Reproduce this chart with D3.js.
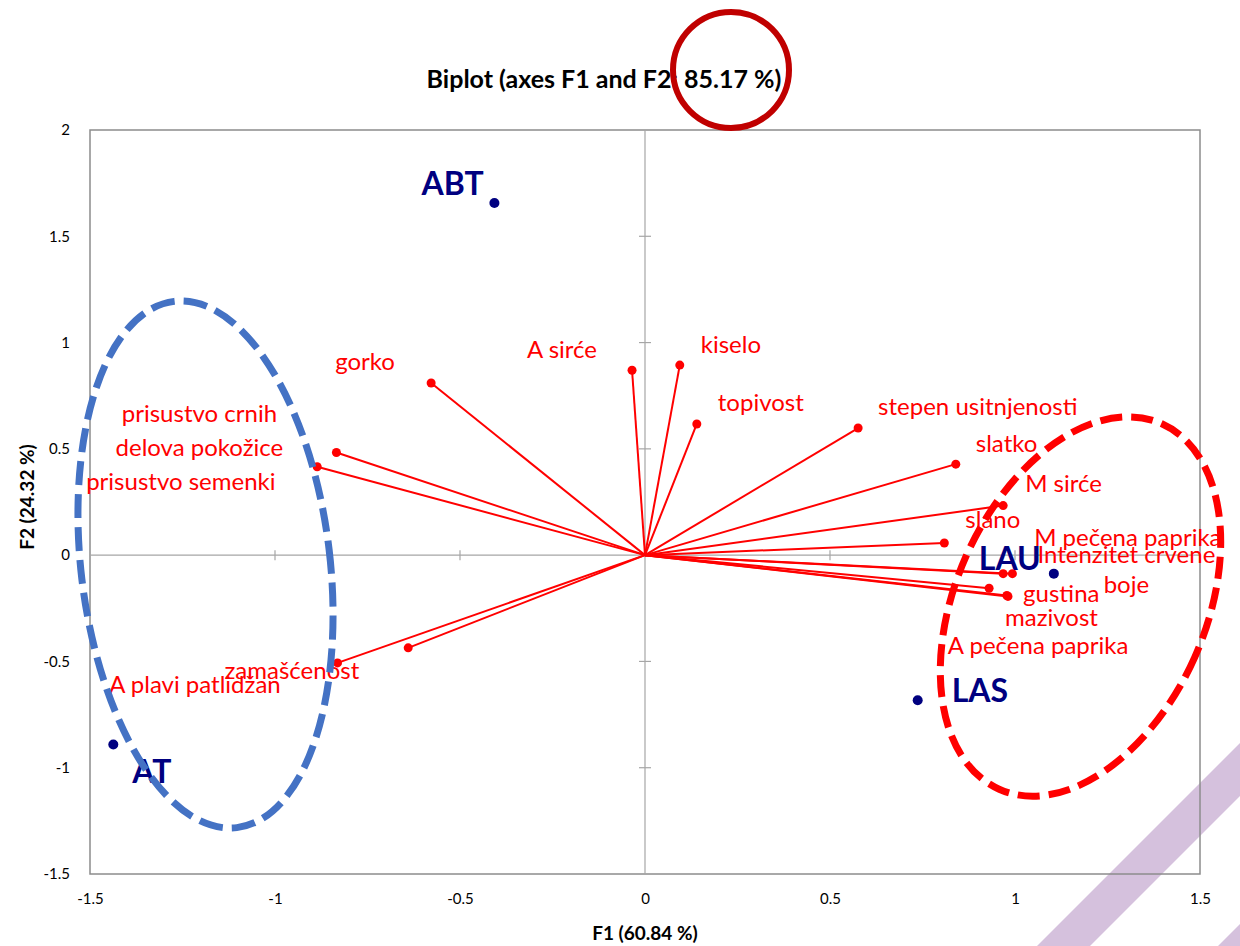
<html>
<head>
    <script src="https://d3js.org/d3.v7.min.js"></script>
</head>
<body style="margin:0;">

<div id="chart"></div>

<style>
    body { background: #fff; }
    text { font-family: Lato, "Open Sans", sans-serif; }
</style>

<script>

// observations (navy points)
var obsNames = ["ABT", "AT", "LAU", "LAS"];
var obsF1 = [-0.407, -1.437, 1.105, 0.737];
var obsF2 = [1.657, -0.891, -0.087, -0.683];

// variables (red vectors)
var varNames = ["gorko", "A sirće", "kiselo", "topivost", "stepen usitnjenosti", "slatko",
    "M sirće", "slano", "M pečena paprika", "Intenzitet crvene\nboje", "gustina", "mazivost",
    "A pečena paprika", "prisustvo crnih\ndelova pokožice", "prisustvo semenki",
    "zamašćenost", "A plavi patlidžan"];
var varF1 = [-0.578, -0.035, 0.094, 0.140, 0.576, 0.840,
    0.968, 0.809, 0.968, 0.993, 0.930, 0.981,
    0.978, -0.834, -0.886,
    -0.831, -0.640];
var varF2 = [0.810, 0.870, 0.894, 0.617, 0.598, 0.428,
    0.233, 0.057, -0.087, -0.087, -0.156, -0.194,
    -0.190, 0.483, 0.416,
    -0.507, -0.436];

var f1Ticks = [-1.5, -1, -0.5, 0, 0.5, 1, 1.5];
var f2Ticks = [-1.5, -1, -0.5, 0, 0.5, 1, 1.5, 2];

var title = "Biplot (axes F1 and F2: 85.17 %)";
var xTitle = "F1 (60.84 %)";
var yTitle = "F2 (24.32 %)";

// label placement (px offsets from the point), kept apart from the data
var obsLabelPos = {
    "ABT": [-73, -8], "AT": [19, 38], "LAU": [-75, -4], "LAS": [34, 2]
};
var varLabelPos = {
    "gorko": [-96, -13], "A sirće": [-105, -12], "kiselo": [21, -12], "topivost": [21, -13],
    "stepen usitnjenosti": [20, -13], "slatko": [20, -12], "M sirće": [22, -14], "slano": [21, -15],
    "M pečena paprika": [31, -28], "Intenzitet crvene\nboje": [114, -11, "middle", 30],
    "gustina": [34, 14], "mazivost": [-3, 30], "A pečena paprika": [-59, 58],
    "prisustvo crnih\ndelova pokožice": [-137, -30, "middle", 34],
    "prisustvo semenki": [-231, 23], "zamašćenost": [-113, 16], "A plavi patlidžan": [-299, 45]
};

var W = 1240, H = 946;
var plot = {left: 90, right: 1200, top: 130, bottom: 874};

var svg = d3.select("#chart")
    .append("svg")
    .attr("width", W)
    .attr("height", H);

svg.append("rect").attr("width", W).attr("height", H).attr("fill", "#fff");

// decorative diagonal stripes, bottom right
var stripes = [[1037, 53], [1218, 53]];
stripes.forEach(function (s) {
    var x0 = s[0], w = s[1];
    svg.append("polygon")
        .attr("points", [[x0, 946], [x0 + 400, 546], [x0 + w + 400, 546], [x0 + w, 946]].join(" "))
        .attr("fill", "#d5c1dd");
});

var x = d3.scaleLinear().domain([-1.5, 1.5]).range([plot.left, plot.right]);
var y = d3.scaleLinear().domain([-1.5, 2]).range([plot.bottom, plot.top]);

// frame
svg.append("rect")
    .attr("x", plot.left).attr("y", plot.top)
    .attr("width", plot.right - plot.left).attr("height", plot.bottom - plot.top)
    .attr("fill", "none").attr("stroke", "#8c8c8c").attr("stroke-width", 1.5);

// zero lines with cross ticks
var g0 = svg.append("g").attr("stroke", "#a6a6a6").attr("stroke-width", 1.2);
g0.append("line").attr("x1", plot.left).attr("x2", plot.right).attr("y1", y(0)).attr("y2", y(0));
g0.append("line").attr("x1", x(0)).attr("x2", x(0)).attr("y1", plot.top).attr("y2", plot.bottom);
g0.selectAll(".xt").data(f1Ticks.filter(function (d) { return d != 0 && Math.abs(d) < 1.5; }))
    .enter().append("line")
    .attr("x1", function (d) { return x(d); }).attr("x2", function (d) { return x(d); })
    .attr("y1", y(0) - 5).attr("y2", y(0) + 5);
g0.selectAll(".yt").data(f2Ticks.filter(function (d) { return d != 0 && d > -1.5 && d < 2; }))
    .enter().append("line")
    .attr("y1", function (d) { return y(d); }).attr("y2", function (d) { return y(d); })
    .attr("x1", x(0) - 6).attr("x2", x(0) + 6);

// tick labels through d3 axes
var xAxis = svg.append("g")
    .attr("transform", "translate(0," + (plot.bottom + 16) + ")")
    .call(d3.axisBottom(x).tickValues(f1Ticks).tickSize(0).tickFormat(function (d) { return String(d); }));
xAxis.select(".domain").remove();
xAxis.selectAll("text").style("font-family", "Lato").style("font-size", "15px").attr("fill", "#000");

var yAxis = svg.append("g")
    .attr("transform", "translate(" + (plot.left - 17) + ",0)")
    .call(d3.axisLeft(y).tickValues(f2Ticks).tickSize(0).tickFormat(function (d) { return String(d); }));
yAxis.select(".domain").remove();
yAxis.selectAll("text").style("font-family", "Lato").style("font-size", "15px").attr("fill", "#000");

// vectors
var vars = varNames.map(function (n, i) { return {name: n, f1: varF1[i], f2: varF2[i]}; });
var obs = obsNames.map(function (n, i) { return {name: n, f1: obsF1[i], f2: obsF2[i]}; });

svg.append("g").selectAll("line")
    .data(vars).enter().append("line")
    .attr("x1", x(0)).attr("y1", y(0))
    .attr("x2", function (d) { return x(d.f1); })
    .attr("y2", function (d) { return y(d.f2); })
    .attr("stroke", "#ff0000").attr("stroke-width", 2);

svg.append("g").selectAll("circle")
    .data(vars).enter().append("circle")
    .attr("cx", function (d) { return x(d.f1); })
    .attr("cy", function (d) { return y(d.f2); })
    .attr("r", 4.5).attr("fill", "#ff0000");

svg.append("g").selectAll("circle")
    .data(obs).enter().append("circle")
    .attr("cx", function (d) { return x(d.f1); })
    .attr("cy", function (d) { return y(d.f2); })
    .attr("r", 5).attr("fill", "#000080");

// variable labels
vars.forEach(function (d) {
    var p = varLabelPos[d.name];
    var t = svg.append("text")
        .attr("x", x(d.f1) + p[0]).attr("y", y(d.f2) + p[1])
        .attr("text-anchor", p[2] || "start")
        .attr("fill", "#ff0000")
        .style("font-size", "24px");
    d.name.split("\n").forEach(function (line, k) {
        t.append("tspan")
            .attr("x", x(d.f1) + p[0])
            .attr("dy", k == 0 ? 0 : (p[3] || 28))
            .text(line);
    });
});

// observation labels
svg.append("g").selectAll("text")
    .data(obs).enter().append("text")
    .attr("x", function (d) { return x(d.f1) + obsLabelPos[d.name][0]; })
    .attr("y", function (d) { return y(d.f2) + obsLabelPos[d.name][1]; })
    .attr("fill", "#000080")
    .style("font-size", "32px").style("font-weight", "bold")
    .text(function (d) { return d.name; });

// group ellipses
svg.append("ellipse")
    .attr("transform", "translate(205.5,564.5) rotate(-6.8)")
    .attr("rx", 124.5).attr("ry", 265)
    .attr("fill", "none").attr("stroke", "#4472c4").attr("stroke-width", 7)
    .attr("stroke-dasharray", "24,9");

svg.append("ellipse")
    .attr("transform", "translate(1080.5,606.5) rotate(24)")
    .attr("rx", 125).attr("ry", 200)
    .attr("fill", "none").attr("stroke", "#ff0000").attr("stroke-width", 7)
    .attr("stroke-dasharray", "22,9");

// titles
svg.append("text")
    .attr("x", 604).attr("y", 88)
    .attr("text-anchor", "middle")
    .style("font-size", "25px").style("font-weight", "bold")
    .text(title);

svg.append("circle")
    .attr("cx", 731).attr("cy", 70).attr("r", 58)
    .attr("fill", "none").attr("stroke", "#c00000").attr("stroke-width", 6);

svg.append("text")
    .attr("x", x(0)).attr("y", 940)
    .attr("text-anchor", "middle")
    .style("font-size", "19px").style("font-weight", "bold")
    .text(xTitle);

svg.append("text")
    .attr("transform", "translate(34,497) rotate(-90)")
    .attr("text-anchor", "middle")
    .style("font-size", "19px").style("font-weight", "bold")
    .text(yTitle);

</script>

</body>
</html>
